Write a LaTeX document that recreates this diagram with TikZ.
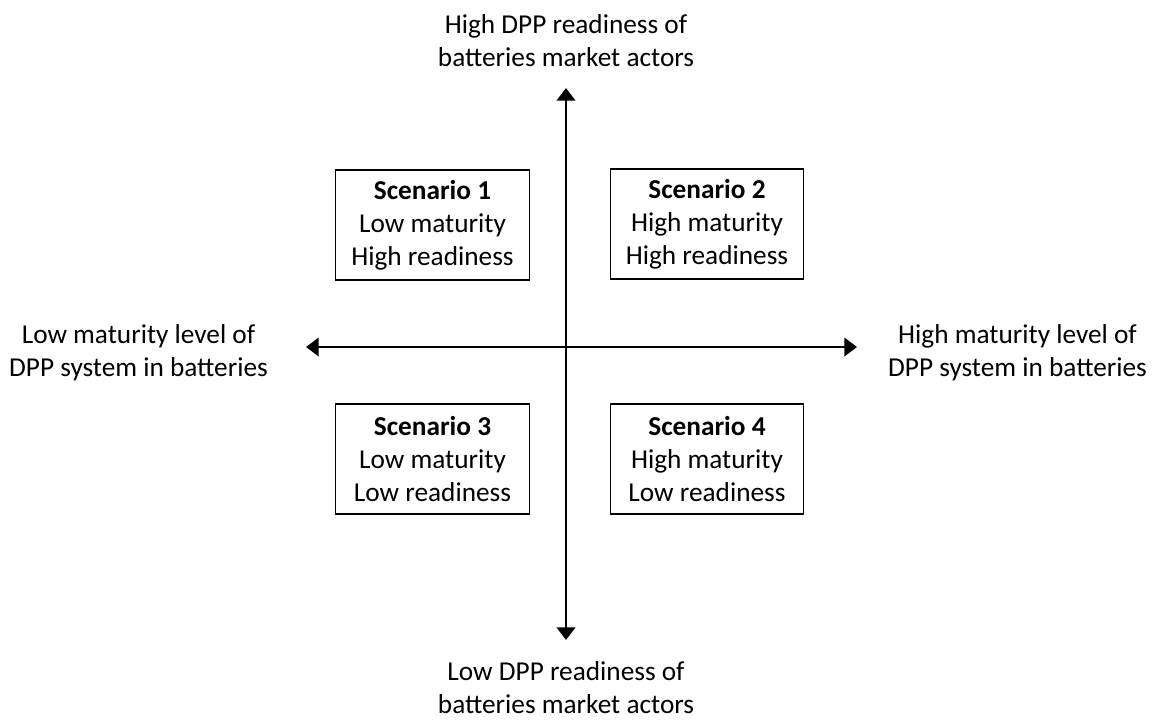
\documentclass[tikz,border=0pt]{standalone}
\usepackage{fontspec}
\setmainfont{Carlito}
\usepackage{tikz}
\usetikzlibrary{arrows.meta}
\tikzset{scenario/.style={draw, line width=0.8pt, minimum width=4.83cm, minimum height=2.75cm, inner sep=0pt}}

\begin{document}
\begin{tikzpicture}[x=0.025cm, y=-0.025cm, >={Triangle[length=9pt, width=13pt]}, every node/.style={align=center, inner sep=0pt, font=\fontsize{19.4}{23.4}\selectfont}]
\useasboundingbox (0,0) rectangle (1154,719);
\coordinate (ytop) at (566,88);
\coordinate (ybot) at (566,640);
\coordinate (xleft) at (306,347);
\coordinate (xright) at (857,347);
\node (high) at (566,41) {High DPP readiness of\\batteries market actors};
\node (low) at (566,688) {Low DPP readiness of\\batteries market actors};
\node (lowmat) at (138.5,353) {Low maturity level of\\DPP system in batteries};
\node (highmat) at (1017.5,353) {High maturity level of\\DPP system in batteries};
\node[scenario] (s1) at (432.5,225) {\textbf{Scenario 1}\\Low maturity\\High readiness};
\node[scenario] (s2) at (707,224) {\textbf{Scenario 2}\\High maturity\\High readiness};
\node[scenario] (s3) at (432.5,459) {\textbf{Scenario 3}\\Low maturity\\Low readiness};
\node[scenario] (s4) at (707,459) {\textbf{Scenario 4}\\High maturity\\Low readiness};
\draw [<->, line width=2.1pt] (ybot) -- (ytop);
\draw [<->, line width=2.1pt] (xleft) -- (xright);
\end{tikzpicture}
\end{document}
